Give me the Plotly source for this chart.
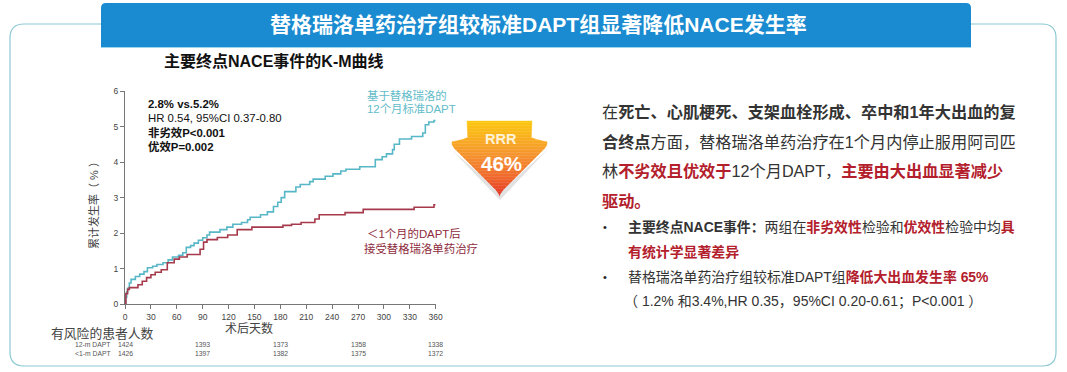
import plotly.graph_objects as go

W, H = 1067, 372
days_12m = [0,1,2,3,5,7,12,17,22,26,32,37,44,50,55,62,67,71,76,80,85,90,95,98,110,118,125,135,142,145,157,165,172,177,181,185,198,203,214,218,232,241,250,256,272,290,298,303,310,312,318,332,345,348,352,358,360]
rate_12m = [0,0.2,0.35,0.45,0.6,0.7,0.78,0.85,0.92,1.03,1.07,1.12,1.17,1.25,1.33,1.38,1.45,1.6,1.65,1.72,1.8,1.87,1.95,2.03,2.1,2.17,2.25,2.3,2.38,2.45,2.52,2.6,2.75,2.87,3.0,3.17,3.3,3.37,3.45,3.52,3.6,3.67,3.75,3.8,3.87,4.07,4.15,4.23,4.35,4.5,4.65,4.72,4.82,5.05,5.13,5.17,5.17]
days_1m = [0,1,3,5,15,20,25,30,35,42,49,57,63,72,87,91,95,107,119,130,147,183,193,204,220,225,255,276,335,358,360]
rate_1m = [0,0.3,0.42,0.47,0.55,0.65,0.75,0.83,0.9,0.97,1.17,1.27,1.33,1.4,1.55,1.75,1.82,1.88,1.95,2.1,2.17,2.22,2.25,2.3,2.4,2.52,2.58,2.67,2.73,2.8,2.8]
risk_days = [0,90,180,270,360]
risk_12m = [1424,1393,1373,1358,1338]
risk_1m = [1426,1397,1382,1375,1372]
stats_lines = ["2.8% vs.5.2%","HR 0.54, 95%CI 0.37-0.80","非劣效P&lt;0.001","优效P=0.002"]
TEAL, RED, DRED = "#58b7c6", "#a63a4c", "#b3202c"
CJK = "Liberation Sans, Noto Sans CJK SC, sans-serif"
LAT = "Liberation Sans, Noto Sans CJK SC, sans-serif"

def R(s): return f'<b><span style="color:{DRED}">{s}</span></b>'
def B(s): return f"<b>{s}</b>"
right_lines = [
 (602,112,16.2,"在"+B("死亡、心肌梗死、支架血栓形成、卒中和1年大出血的复")),
 (602,142,16.2,B("合终点")+"方面，替格瑞洛单药治疗在1个月内停止服用阿司匹"),
 (602,171,16.2,"林"+R("不劣效且优效于")+"12个月DAPT，"+R("主要由大出血显著减少")),
 (602,201,16.2,R("驱动。")),
 (628,227,13.9,B("主要终点NACE事件：")+"两组在"+R("非劣效性")+"检验和"+R("优效性")+"检验中均"+R("具")),
 (628,252,13.9,R("有统计学显著差异")),
 (628,277,13.9,"替格瑞洛单药治疗组较标准DAPT组"+R("降低大出血发生率 65%")),
 (624,301.5,14,"（ 1.2% 和3.4%,HR 0.35，95%CI 0.20-0.61；P&lt;0.001 ）"),
]

px = lambda x: x / W
py = lambda y: 1 - y / H

fig = go.Figure()
fig.add_trace(go.Scatter(x=days_12m, y=rate_12m, mode="lines", line=dict(color=TEAL, width=1.6, shape="hv"), showlegend=False))
fig.add_trace(go.Scatter(x=days_1m, y=rate_1m, mode="lines", line=dict(color=RED, width=1.6, shape="hv"), showlegend=False))

ann = []
def T(x, y, s, size, color="#222", anchor="left", font=CJK, angle=0):
    if anchor == "left":
        x -= 2
    ann.append(dict(x=px(x), y=py(y), xref="paper", yref="paper", text=s, showarrow=False, xanchor=anchor, yanchor="middle",
                    textangle=angle, font=dict(size=size, color=color, family=font), align="left"))

shapes = []
def P(path, fill, line=None, lw=0, layer="below"):
    shapes.append(dict(type="path", path=path, xref="paper", yref="paper", fillcolor=fill, layer=layer,
                       line=dict(color=line or fill, width=lw)))

def rrect(x0, y0, x1, y1, r):
    c = lambda x, y: f"{px(x)},{py(y)}"
    return (f"M{c(x0+r,y0)} L{c(x1-r,y0)} Q{c(x1,y0)} {c(x1,y0+r)} L{c(x1,y1-r)} Q{c(x1,y1)} {c(x1-r,y1)} "
            f"L{c(x0+r,y1)} Q{c(x0,y1)} {c(x0,y1-r)} L{c(x0,y0+r)} Q{c(x0,y0)} {c(x0+r,y0)} Z")

P(rrect(10, 24, 1056, 366, 14), "#ffffff", "#8cc9d3", 1.2)
c = lambda x, y: f"{px(x)},{py(y)}"
P(f"M{c(101,47)} L{c(101,8)} Q{c(101,3)} {c(106,3)} L{c(966,3)} Q{c(971,3)} {c(971,8)} L{c(971,47)} Z", "#1a8bd0")
shapes.append(dict(type="line", xref="paper", yref="paper", x0=px(101), x1=px(971), y0=py(47.5), y1=py(47.5), line=dict(color="#9fd4ee", width=1), layer="below"))

# RRR arrow, drawn as horizontal colour bands
def edges(y):
    if y < 138: return 467 + (y-121)*0.05, 532 - (y-121)*0.05
    if y < 142: return 468 - (y-138)*3.9, 531 + (y-138)*3.9
    if y < 147: return 452 - (y-142)*0.2 + (y-142)**2*0.1, 547 + (y-142)*0.2 - (y-142)**2*0.1
    if y < 190: return 453 + (y-147)*1.0, 546 - (y-147)*1.0
    return 496 + (y-190)*0.7, 503 - (y-190)*0.7
stops = [(0,(253,200,16)),(0.45,(246,150,50)),(0.75,(240,105,45)),(1,(230,55,40))]
def grad(t):
    for (a,ca),(b,cb) in zip(stops, stops[1:]):
        if t <= b:
            f = (t-a)/(b-a)
            return "rgb(%d,%d,%d)" % tuple(ca[i]+(cb[i]-ca[i])*f for i in range(3))
    return "rgb(230,55,40)"
P(f"M{c(452,150)} L{c(500,200)} L{c(547,150)} L{c(500,192)} Z", "#e2e2e2")
y = 121
while y < 195:
    l0, r0 = edges(y); l1, r1 = edges(min(y+1.5, 194.9))
    P(f"M{c(l0,y)} L{c(r0,y)} L{c(r1,y+1.5)} L{c(l1,y+1.5)} Z", grad((y-121)/74), lw=0.4)
    y += 1.5

T(538, 25, B("替格瑞洛单药治疗组较标准DAPT组显著降低NACE发生率"), 21, "#ffffff", "center")
T(164, 61, B("主要终点NACE事件的K-M曲线"), 16, "#111")
for i, s in enumerate(stats_lines):
    T(148, 104+14*i, B(s) if i != 1 else s, 11.4, "#111", font=LAT)
T(367, 95, "基于替格瑞洛的", 11.4, "#62bcc9")
T(367, 109, "12个月标准DAPT", 11.4, "#62bcc9")
T(367, 233.5, "＜1个月的DAPT后", 11.4, "#8e2c3c")
T(364, 248, "接受替格瑞洛单药治疗", 11.4, "#8e2c3c")
T(501, 139, B("RRR"), 14.5, "#fff3d8", "center", LAT)
T(501, 163, B("46%"), 20.5, "#ffffff", "center", LAT)
T(94, 203, "累计发生率（ % ）", 11, "#444", "center", angle=-90)
T(249, 328, "术后天数", 12, "#444", "center")
T(51, 333, "有风险的患者人数", 12.8, "#444")
T(75, 344.7, "12-m DAPT", 6.8, "#555", font=LAT)
T(75, 353.3, "<1-m DAPT", 6.8, "#555", font=LAT)
for d, a, b in zip(risk_days, risk_12m, risk_1m):
    for v, yy in ((a, 344.7), (b, 353.3)):
        ann.append(dict(x=d, y=py(yy), xref="x", yref="paper", text=str(v), showarrow=False, xanchor="center", yanchor="middle",
                        font=dict(size=6.8, color="#555", family=LAT)))
for x, yy, size, s in right_lines:
    T(x, yy, s, size, "#333")
T(603, 227, "•", 11, "#222")
T(603, 277, "•", 11, "#222")

axis_style = dict(showgrid=False, zeroline=False, showline=True, linecolor="#777", linewidth=1, ticks="outside", ticklen=4,
                  tickcolor="#777", tickfont=dict(size=8.5, color="#444", family=LAT))
fig.update_layout(
    width=W, height=H, margin=dict(l=0, r=0, t=0, b=0, autoexpand=False), paper_bgcolor="#ffffff", plot_bgcolor="rgba(0,0,0,0)",
    showlegend=False, annotations=ann, shapes=shapes,
    xaxis=dict(domain=[px(125), px(435.7)], range=[0, 360], tickvals=list(range(0, 361, 30)), anchor="y", **axis_style),
    yaxis=dict(domain=[py(304.3), py(91)], range=[0, 6], tickvals=list(range(7)), anchor="x", **axis_style),
)
fig.write_html("out.html", config={"displayModeBar": False}, post_script="document.body.style.margin='0';")
